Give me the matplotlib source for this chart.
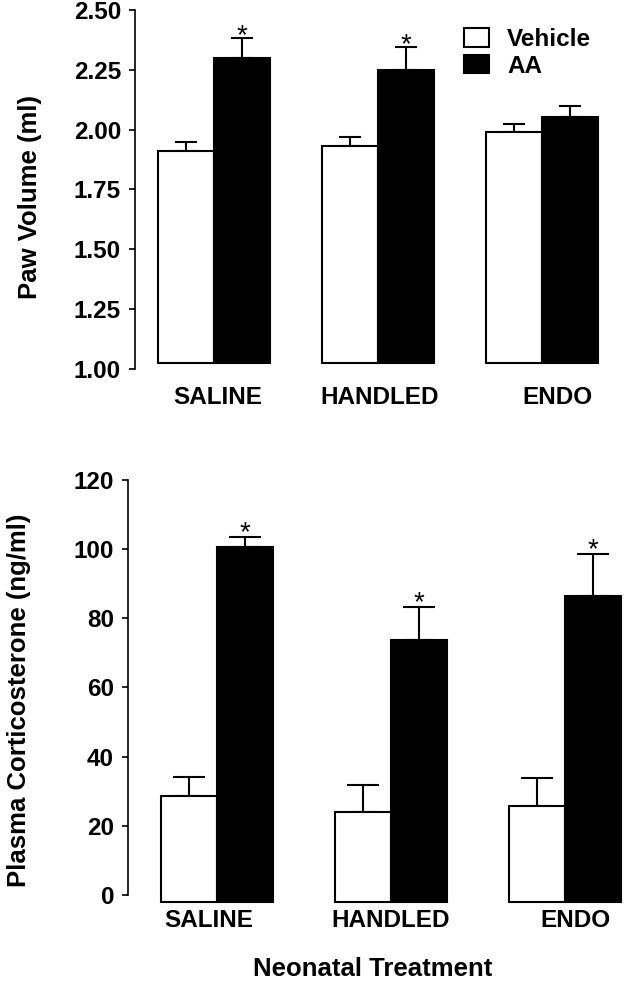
import matplotlib.pyplot as plt
import numpy as np
from matplotlib.patches import Patch

plt.rcParams['font.family'] = ['Liberation Sans', 'DejaVu Sans']
plt.rcParams['font.weight'] = 'bold'

groups = ['SALINE', 'HANDLED', 'ENDO']
series = ['Vehicle', 'AA']

# paw volume (ml), mean and SEM
paw_vehicle = [1.91, 1.93, 1.99]
paw_vehicle_err = [0.038, 0.038, 0.033]
paw_aa = [2.30, 2.25, 2.055]
paw_aa_err = [0.083, 0.096, 0.042]
paw_sig = [True, True, False]

# plasma corticosterone (ng/ml)
cort_vehicle = [28.6, 24.0, 25.7]
cort_vehicle_err = [5.5, 7.8, 8.1]
cort_aa = [100.6, 73.7, 86.5]
cort_aa_err = [2.9, 9.6, 12.1]
cort_sig = [True, True, True]

W, H = 628, 981
fig = plt.figure(figsize=(W / 100, H / 100), dpi=100)


def draw_panel(ax, veh, veh_err, aa, aa_err, sig, base, width, capsize, star_off,
               xlim, label_shift):
    x = np.arange(len(groups))
    veh = np.array(veh)
    aa = np.array(aa)
    ax.set_xlim(*xlim)
    ax.bar(x - width / 2, veh - base, width, bottom=base, color='white',
           edgecolor='black', linewidth=1.5, zorder=2)
    ax.bar(x + width / 2, aa - base, width, bottom=base, color='black',
           edgecolor='black', linewidth=1.5, zorder=2)
    ax.errorbar(x - width / 2, veh, yerr=[np.zeros(len(x)), veh_err], fmt='none',
                ecolor='black', elinewidth=1.5, capsize=capsize, capthick=1.5, zorder=1)
    ax.errorbar(x + width / 2, aa, yerr=[np.zeros(len(x)), aa_err], fmt='none',
                ecolor='black', elinewidth=1.5, capsize=capsize, capthick=1.5, zorder=1)
    for i, s in enumerate(sig):
        if s:
            ax.annotate('*', (x[i] + width / 2, aa[i] + aa_err[i]), xytext=(0, star_off),
                        textcoords='offset points', ha='center', va='baseline',
                        fontsize=20, fontweight='normal')
    for side in ['top', 'right', 'bottom']:
        ax.spines[side].set_visible(False)
    ax.spines['left'].set_linewidth(1.2)
    ax.tick_params(axis='y', direction='out', length=4, width=1.2, labelsize=17.5, pad=6)
    # group names sit a little off-centre in the original, shift by a few pixels
    ax_px = ax.get_position().width * W
    px_per_unit = ax_px / (xlim[1] - xlim[0])
    ax.set_xticks(x + np.array(label_shift) / px_per_unit)
    ax.set_xticklabels(groups, fontsize=17.5)


# top panel: paw volume
ax1 = fig.add_axes([135 / W, 612 / H, (620 - 135) / W, 359 / H])
draw_panel(ax1, paw_vehicle, paw_vehicle_err, paw_aa, paw_aa_err, paw_sig,
           base=1.025, width=0.34, capsize=8, star_off=-3.5,
           xlim=(-0.48, 2.474), label_shift=[4, 2, 15])
ax1.set_ylim(1.0, 2.5)
ax1.set_yticks(np.arange(1.0, 2.51, 0.25))
ax1.set_yticklabels(['%.2f' % v for v in np.arange(1.0, 2.51, 0.25)])
ax1.tick_params(axis='x', length=0, pad=12)
fig.text(30 / W, 1 - 197 / H, 'Paw Volume (ml)', rotation=90, ha='center', va='center',
         fontsize=18.5)

handles = [Patch(facecolor='white', edgecolor='black', linewidth=1.5, label=series[0]),
           Patch(facecolor='black', edgecolor='black', linewidth=1.5, label=series[1])]
ax1.legend(handles=handles, loc='upper left', bbox_to_anchor=(464 / W, 1 - 28 / H),
           bbox_transform=fig.transFigure, frameon=False, borderpad=0, borderaxespad=0,
           handlelength=1.03, handleheight=0.8, handletextpad=0.75, labelspacing=0.15,
           prop={'size': 17.5, 'weight': 'bold'})

# bottom panel: corticosterone
ax2 = fig.add_axes([128 / W, (H - 908.8) / H, 500 / W, (908.8 - 480) / H])
draw_panel(ax2, cort_vehicle, cort_vehicle_err, cort_aa, cort_aa_err, cort_sig,
           base=-2, width=0.322, capsize=11.5, star_off=-2.5,
           xlim=(-0.511, 2.362), label_shift=[-8, 0, 10])
ax2.set_ylim(-4, 120)
ax2.set_yticks(np.arange(0, 121, 20))
ax2.spines['left'].set_bounds(0, 120)
ax2.tick_params(axis='x', length=0, pad=0)
fig.text(19 / W, 1 - 700 / H, 'Plasma Corticosterone (ng/ml)', rotation=90,
         ha='center', va='center', fontsize=18.5)
fig.text(373 / W, 5 / H, 'Neonatal Treatment', ha='center', va='baseline', fontsize=18.5)

fig.savefig('out.png', dpi=100, facecolor='white')
